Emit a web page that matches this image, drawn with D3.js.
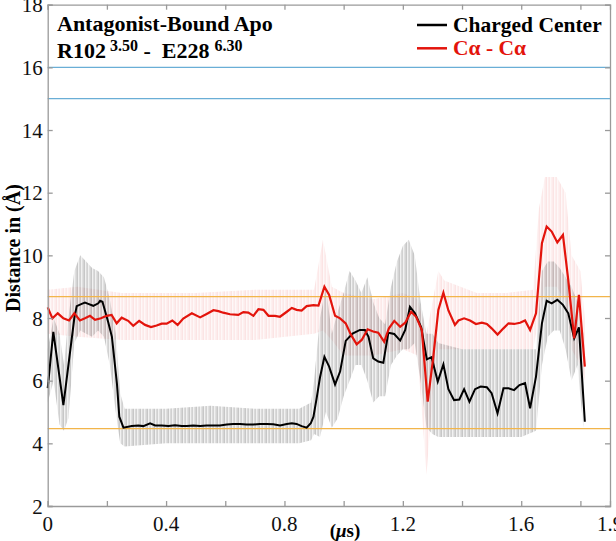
<!DOCTYPE html>
<html><head><meta charset="utf-8">
<script src="https://cdn.jsdelivr.net/npm/d3@7"></script>
<style>body{margin:0;background:#fff}svg{display:block}text{font-family:"Liberation Serif","Times New Roman",serif}</style>
</head><body><svg id="c" width="616" height="541"></svg>
<script>
// ---- data ----
const xTicks = [0,0.2,0.4,0.6,0.8,1.0,1.2,1.4,1.6,1.8];
const xTickLabels = [[0,"0"],[0.4,"0.4"],[0.8,"0.8"],[1.2,"1.2"],[1.6,"1.6"],[1.9,"1.9"]];
const yTicks = [2,4,6,8,10,12,14,16,18];
const blueLines = [16,15];
const orangeLines = [8.68,4.47];
const seriesNames = ["Charged Center","Cα - Cα"];

const chargedCenter = [[0,5.76],[0.019,7.56],[0.053,5.22],[0.09,8.0],[0.098,8.38],[0.115,8.45],[0.126,8.49],[0.137,8.45],[0.154,8.39],[0.171,8.47],[0.177,8.55],[0.185,8.52],[0.205,7.85],[0.217,7.4],[0.234,5.9],[0.242,4.85],[0.256,4.5],[0.284,4.55],[0.306,4.57],[0.323,4.55],[0.346,4.64],[0.363,4.57],[0.385,4.57],[0.408,4.55],[0.430,4.58],[0.453,4.55],[0.470,4.55],[0.492,4.57],[0.515,4.55],[0.537,4.57],[0.560,4.57],[0.582,4.57],[0.605,4.6],[0.627,4.62],[0.650,4.62],[0.672,4.6],[0.695,4.6],[0.717,4.62],[0.740,4.62],[0.762,4.61],[0.785,4.57],[0.808,4.62],[0.825,4.64],[0.841,4.62],[0.858,4.55],[0.875,4.5],[0.889,4.64],[0.898,4.85],[0.909,5.45],[0.920,6.1],[0.935,6.76],[0.951,6.45],[0.971,5.88],[0.988,6.29],[1.007,7.27],[1.030,7.5],[1.055,7.62],[1.072,7.62],[1.084,7.4],[1.100,6.71],[1.117,6.61],[1.134,6.57],[1.151,7.53],[1.171,7.49],[1.191,7.28],[1.208,7.62],[1.224,8.36],[1.241,8.15],[1.262,7.7],[1.281,6.68],[1.297,6.75],[1.318,5.97],[1.337,6.52],[1.354,5.73],[1.373,5.38],[1.391,5.40],[1.407,5.73],[1.425,5.33],[1.444,5.73],[1.463,5.81],[1.484,5.79],[1.500,5.6],[1.520,4.96],[1.540,5.76],[1.557,5.76],[1.576,5.7],[1.594,5.86],[1.613,5.92],[1.630,5.12],[1.650,6.13],[1.670,7.83],[1.686,8.55],[1.703,8.47],[1.722,8.58],[1.741,8.42],[1.759,8.15],[1.779,7.35],[1.795,7.7],[1.815,4.69]];

const caCa = [[0,8.34],[0.016,7.99],[0.034,8.15],[0.053,7.99],[0.072,7.92],[0.090,8.15],[0.109,7.92],[0.126,7.99],[0.143,8.07],[0.160,7.94],[0.180,7.99],[0.199,8.07],[0.216,8.10],[0.233,7.83],[0.250,8.01],[0.272,7.91],[0.289,7.75],[0.309,7.91],[0.329,7.78],[0.349,7.71],[0.368,7.76],[0.385,7.82],[0.402,7.82],[0.421,7.92],[0.439,7.78],[0.458,7.98],[0.487,8.15],[0.515,8.02],[0.537,8.13],[0.560,8.25],[0.577,8.22],[0.593,8.17],[0.616,8.12],[0.644,8.1],[0.661,8.19],[0.678,8.17],[0.695,8.07],[0.712,8.28],[0.729,8.26],[0.746,8.07],[0.768,8.07],[0.785,8.04],[0.808,8.2],[0.825,8.32],[0.841,8.26],[0.858,8.24],[0.875,8.38],[0.898,8.41],[0.915,8.4],[0.935,9.0],[0.951,8.74],[0.971,8.07],[0.988,7.99],[1.007,7.83],[1.025,7.46],[1.044,7.16],[1.061,7.3],[1.081,7.64],[1.100,7.57],[1.117,7.53],[1.137,7.24],[1.153,7.67],[1.171,7.91],[1.191,7.72],[1.208,7.85],[1.228,8.2],[1.245,8.04],[1.264,7.62],[1.284,5.33],[1.303,6.77],[1.320,8.26],[1.337,8.81],[1.354,8.24],[1.376,7.78],[1.388,7.92],[1.407,7.99],[1.427,7.92],[1.447,7.81],[1.467,7.85],[1.484,7.81],[1.500,7.67],[1.520,7.47],[1.540,7.67],[1.557,7.83],[1.576,7.81],[1.596,7.85],[1.613,7.92],[1.630,7.62],[1.650,8.15],[1.670,10.39],[1.686,10.92],[1.703,10.76],[1.722,10.41],[1.741,10.65],[1.759,9.21],[1.779,7.35],[1.795,8.74],[1.815,6.45]];

// raw-trace envelopes: [t, low, high]
const chargedRaw = [[0,5.3,7.0],[0.02,6.0,8.0],[0.04,4.6,7.5],[0.055,4.4,6.5],[0.07,4.8,8.0],[0.09,7.2,9.5],[0.11,7.6,10.0],[0.13,7.5,9.8],[0.15,7.4,9.6],[0.17,7.6,9.5],[0.19,7.4,9.3],[0.21,6.5,8.6],[0.23,5.0,7.5],[0.245,4.0,5.6],[0.26,3.9,5.1],[0.4,4.0,5.1],[0.55,4.0,5.2],[0.7,4.0,5.1],[0.85,4.0,5.1],[0.89,4.1,5.3],[0.9,4.3,6.0],[0.92,4.2,8.0],[0.94,5.0,9.0],[0.96,4.5,7.5],[0.98,4.8,8.2],[1.0,5.5,8.8],[1.02,6.0,9.5],[1.04,6.5,9.2],[1.06,6.5,8.8],[1.08,6.0,9.3],[1.10,5.3,8.5],[1.12,5.5,8.0],[1.14,5.5,7.8],[1.16,6.5,9.0],[1.18,6.8,9.8],[1.20,7.0,10.3],[1.22,7.0,10.5],[1.24,7.2,10.0],[1.26,6.0,8.5],[1.28,4.5,7.5],[1.30,4.3,7.5],[1.32,4.2,7.2],[1.40,4.2,7.0],[1.50,4.2,7.0],[1.60,4.2,7.0],[1.65,4.4,7.0],[1.67,6.5,9.5],[1.69,7.4,9.8],[1.71,7.6,9.8],[1.73,7.6,9.6],[1.75,7.0,9.3],[1.77,6.0,9.0],[1.79,6.5,8.5],[1.81,4.5,7.5]];
const caRaw = [[0,7.5,8.9],[0.1,7.4,9.0],[0.25,7.3,8.8],[0.5,7.3,8.8],[0.7,7.3,8.9],[0.9,7.5,8.9],[0.93,7.6,10.5],[0.96,7.3,9.0],[1.0,6.8,8.8],[1.1,6.8,8.6],[1.2,7.0,8.8],[1.25,6.8,8.6],[1.28,3.0,7.5],[1.30,5.5,8.5],[1.32,7.0,9.5],[1.34,7.0,9.2],[1.45,7.0,8.8],[1.55,7.0,8.8],[1.64,7.0,8.9],[1.66,8.0,11.5],[1.68,9.0,12.5],[1.72,9.0,12.5],[1.75,8.5,12.0],[1.77,7.0,10.0],[1.80,6.5,9.5],[1.815,6.0,8.0]];

// ---- drawing ----
const svg = d3.select("#c");
const L=47.7, R=610, T=4.7, B=506;
const x = d3.scaleLinear().domain([0,1.9]).range([L,R]);
const y = d3.scaleLinear().domain([2,18]).range([B,T]);
const axisColor = "#9a9a9a";

// irregular stripe textures for the raw-trace bands (styling only)
const defs = svg.append("defs");
const stripes = [[0,0.42],[2,0.22],[3,0.32],[5,0.18],[6,0.28]];
[["pg","#808080",0.9,0.11],["pr","#f39a9a",0.5,0.07]].forEach(([id,c,k,bg])=>{
  const p = defs.append("pattern").attr("id",id).attr("patternUnits","userSpaceOnUse").attr("width",7).attr("height",40);
  p.append("rect").attr("width",7).attr("height",40).attr("fill",c).attr("opacity",bg);
  stripes.forEach(([sx,o])=>p.append("rect").attr("x",sx).attr("width",1).attr("height",40).attr("fill",c).attr("opacity",o*k));
});

const band = d3.area().x(d=>x(d[0])).y0(d=>y(d[1])).y1(d=>y(d[2]));
svg.append("path").datum(caRaw).attr("d",band).attr("fill","url(#pr)");
svg.append("path").datum(chargedRaw).attr("d",band).attr("fill","url(#pg)");

// reference lines
svg.selectAll(".bl").data(blueLines).join("line").attr("x1",L).attr("x2",R)
  .attr("y1",d=>y(d)).attr("y2",d=>y(d)).attr("stroke","#6aaed6").attr("stroke-width",1.2);
svg.selectAll(".ol").data(orangeLines).join("line").attr("x1",L).attr("x2",R)
  .attr("y1",d=>y(d)).attr("y2",d=>y(d)).attr("stroke","#f2b54a").attr("stroke-width",1.2);

// mean lines
const line = d3.line().x(d=>x(d[0])).y(d=>y(d[1]));
svg.append("path").datum(chargedCenter).attr("d",line).attr("fill","none").attr("stroke","#000").attr("stroke-width",2);
svg.append("path").datum(caCa).attr("d",line).attr("fill","none").attr("stroke","#e3140c").attr("stroke-width",2.2);

// axes
const gx = svg.append("g").attr("transform",`translate(0,${B})`)
  .call(d3.axisBottom(x).tickValues(xTicks).tickSize(-5).tickFormat(""));
const gxt = svg.append("g").attr("transform",`translate(0,${T})`)
  .call(d3.axisTop(x).tickValues(xTicks).tickSize(-5).tickFormat(""));
const gy = svg.append("g").attr("transform",`translate(${L},0)`)
  .call(d3.axisLeft(y).tickValues(yTicks).tickSize(-5).tickFormat(""));
const gyr = svg.append("g").attr("transform",`translate(${R},0)`)
  .call(d3.axisRight(y).tickValues(yTicks).tickSize(-5).tickFormat(""));
[gx,gxt,gy,gyr].forEach(g=>{g.selectAll("path,line").attr("stroke",axisColor).attr("stroke-width",1.3);});

// tick labels
svg.selectAll(".xl").data(xTickLabels).join("text").attr("x",d=>x(d[0])).attr("y",B+25)
  .attr("text-anchor","middle").attr("font-size",21).attr("fill","#111").text(d=>d[1]);
svg.selectAll(".yl").data(yTicks).join("text").attr("x",L-5).attr("y",d=>y(d)+7.5)
  .attr("text-anchor","end").attr("font-size",21).attr("fill","#111").text(d=>d);

// axis titles
const xt = svg.append("text").attr("x",345).attr("y",537).attr("text-anchor","middle")
  .attr("font-size",19).attr("font-weight","bold");
xt.append("tspan").text("(");
xt.append("tspan").attr("font-style","italic").text("μ");
xt.append("tspan").text("s)");
svg.append("text").attr("transform",`translate(20,248) rotate(-90)`).attr("text-anchor","middle")
  .attr("font-size",20).attr("font-weight","bold").text("Distance in (Å)");

// chart title
svg.append("text").attr("x",57).attr("y",31).attr("font-size",22).attr("font-weight","bold").text("Antagonist-Bound Apo");
const t2 = svg.append("text").attr("x",57).attr("y",58).attr("font-size",22).attr("font-weight","bold").style("white-space","pre");
t2.append("tspan").text("R102");
t2.append("tspan").attr("font-size",16).attr("dy",-7).attr("dx",4).text("3.50");
t2.append("tspan").attr("dy",7).text(" -  E228");
t2.append("tspan").attr("font-size",16).attr("dy",-7).attr("dx",5).text("6.30");

// legend
const leg = svg.append("g");
const legColors = ["#000","#e3140c"];
seriesNames.forEach((n,i)=>{
  const yy = 25 + i*23.3;
  leg.append("line").attr("x1",417).attr("x2",447).attr("y1",yy).attr("y2",yy).attr("stroke",legColors[i]).attr("stroke-width",2.5);
  leg.append("text").attr("x",453).attr("y",yy+7).attr("font-size",21.5).attr("font-weight","bold").attr("fill",legColors[i]).text(n);
});
</script></body></html>
